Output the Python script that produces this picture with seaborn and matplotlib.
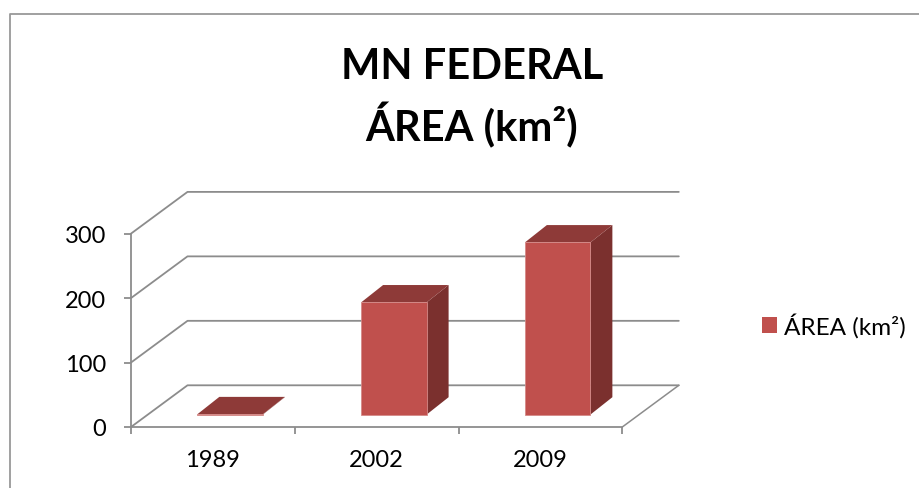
import matplotlib
matplotlib.use("Agg")
import matplotlib.pyplot as plt
import pandas as pd
import seaborn as sns
from matplotlib.lines import Line2D
from matplotlib.patches import Patch, Polygon
from matplotlib.transforms import Affine2D, IdentityTransform

years = ["1989", "2002", "2009"]
area = [0.5, 174, 267]
y_ticks = [0, 100, 200, 300]
series_name = "ÁREA (km²)"
title_text = "MN FEDERAL\nÁREA (km²)"

FRONT = "#C0504D"
TOP = "#8E3A38"
SIDE = "#7B302E"
GRID = "#8C8C8C"
W, H = 919, 489

sns.set_theme(style="white")
plt.rcParams["font.family"] = ["Lato", "DejaVu Sans"]

fig = plt.figure(figsize=(W / 100, H / 100), dpi=100, facecolor="white")
ax = fig.add_axes([131 / W, (H - 428.0) / H, 491.3 / W, 193.4 / H])
ax.patch.set_alpha(0)

df = pd.DataFrame({"year": years, "area": area})
sns.barplot(data=df, x="year", y="area", color=FRONT, saturation=1, width=0.4,
            edgecolor="#D58A88", linewidth=0.6, ax=ax, zorder=5)
ax.set_xlim(-0.5, 2.5)
ax.set_ylim(0, 300)
ax.set_xlabel("")
ax.set_ylabel("")
ax.set_yticks(y_ticks)
ax.set_xticks([-0.5, 0.5, 1.5, 2.5], minor=True)
ax.tick_params(axis="x", which="major", length=0, labelsize=17, pad=16, colors="black")
ax.tick_params(axis="x", which="minor", length=5, width=1.3, color=GRID, bottom=True)
ax.tick_params(axis="y", which="major", length=5, width=1.3, color=GRID, labelsize=17,
               pad=13, left=True, labelcolor="black")
for name, spine in ax.spines.items():
    spine.set_visible(name in ("left", "bottom"))
    spine.set_color(GRID)
    spine.set_linewidth(1.3)

# Pseudo-3D depth offsets, in pixels
WALL_DX, WALL_DY = 56.5, 41.7
BAR_DX, BAR_DY = 17.2, 12.4
DEPTH_DX, DEPTH_DY = 22.0, 17.4
px = IdentityTransform()

# Back wall, gridlines and floor
for v in y_ticks:
    x0, y0 = ax.transData.transform((-0.5, v))
    x1, _ = ax.transData.transform((2.5, v))
    bx0, by = x0 + WALL_DX, y0 + WALL_DY
    bx1 = x1 + WALL_DX
    ax.add_line(Line2D([x0, bx0, bx1], [y0, by, by], transform=px, color=GRID, lw=1.3,
                       clip_on=False, zorder=1))
x1, y1 = ax.transData.transform((2.5, 0))
ax.add_line(Line2D([x1, x1 + WALL_DX], [y1, y1 + WALL_DY], transform=px, color=GRID, lw=1.1,
                   clip_on=False, zorder=1))

# Bars: shift the front faces back, then add the top and side faces
shift = ax.transData + Affine2D().translate(BAR_DX, BAR_DY)
for bar in list(ax.patches):
    bar.set_transform(shift)
    bar.set_clip_on(False)
    xa, ya = shift.transform((bar.get_x(), 0))
    xb, yb = shift.transform((bar.get_x() + bar.get_width(), bar.get_height()))
    dx, dy = DEPTH_DX, DEPTH_DY
    ax.add_patch(Polygon([(xb, ya), (xb + dx, ya + dy), (xb + dx, yb + dy), (xb, yb)],
                         closed=True, transform=px, facecolor=SIDE, edgecolor="none",
                         clip_on=False, zorder=4))
    ax.add_patch(Polygon([(xa, yb), (xa + dx, yb + dy), (xb + dx, yb + dy), (xb, yb)],
                         closed=True, transform=px, facecolor=TOP, edgecolor="none",
                         clip_on=False, zorder=4))

# Title
fig.text(472 / W, (H - 98) / H, title_text, ha="center", va="center", fontsize=30,
         fontweight="bold", color="black", linespacing=1.4)

# Legend
fig.legend(handles=[Patch(facecolor=FRONT, edgecolor="none", label=series_name)],
           loc="center left", bbox_to_anchor=(762 / W, (H - 326) / H), frameon=False,
           fontsize=17.5, handlelength=0.62, handleheight=0.62, handletextpad=0.29,
           borderpad=0, borderaxespad=0, labelcolor="black")

# Chart frame
fig.add_artist(Line2D([9.5 / W, 9.5 / W, 1], [0, (H - 14.5) / H, (H - 14.5) / H],
                      transform=fig.transFigure, color="#999999", lw=1.3))

fig.savefig("out.png", dpi=100, facecolor="white")
